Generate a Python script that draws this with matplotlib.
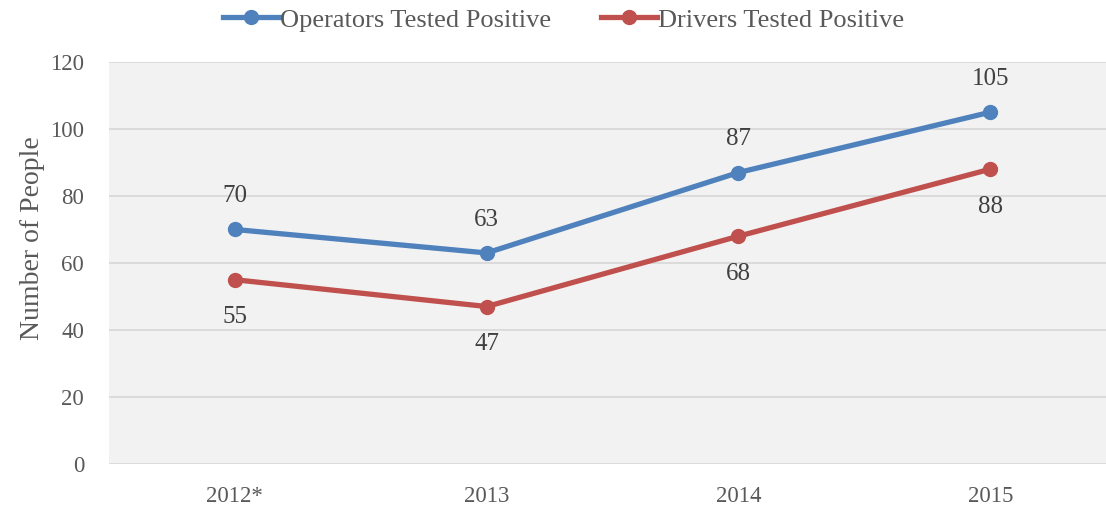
import matplotlib.pyplot as plt

years = ['2012*', '2013', '2014', '2015']
operators = [70, 63, 87, 105]
drivers = [55, 47, 68, 88]

blue = '#4F81BD'
red = '#C0504D'
txt = '#595959'
lbl = '#404040'

plt.rcParams['font.family'] = ['Liberation Serif', 'DejaVu Serif']

fig = plt.figure(figsize=(11.06, 5.11), dpi=100)
ax = fig.add_axes([0.0986, 0.092, 0.9014, 0.7867])
ax.set_facecolor('#F2F2F2')

x = range(len(years))
ax.plot(x, operators, color=blue, lw=3.8, marker='o', ms=10, label='Operators Tested Positive')
ax.plot(x, drivers, color=red, lw=3.8, marker='o', ms=10, label='Drivers Tested Positive')

for i in x:
    ax.annotate(str(operators[i]), (i, operators[i]), xytext=(0, 24), textcoords='offset points',
                ha='center', va='center', fontsize=18, color=lbl)
    ax.annotate(str(drivers[i]), (i, drivers[i]), xytext=(0, -27), textcoords='offset points',
                ha='center', va='center', fontsize=18, color=lbl)

ax.set_xlim(-0.5, 3.46)
ax.set_ylim(0, 120)
ax.set_yticks(range(0, 121, 20))
ax.set_xticks(list(x))
ax.set_xticklabels(years)
ax.tick_params(length=0, labelsize=16.5, colors=txt)
ax.tick_params(axis='x', pad=16)
ax.tick_params(axis='y', pad=18)
ax.grid(axis='y', color='#D9D9D9', lw=1.3)
ax.set_axisbelow(True)
for s in ax.spines.values():
    s.set_visible(False)
ax.set_ylabel('Number of People', fontsize=20, color=txt)
ax.yaxis.set_label_coords(-0.064, 0.563)

ax.legend(loc='lower center', bbox_to_anchor=(0.456, 1.0), ncol=2, frameon=False,
          fontsize=19, labelcolor=txt, handlelength=2.1, handletextpad=0.05,
          columnspacing=1.9, borderaxespad=0.75)

fig.savefig('out.png', dpi=100)
